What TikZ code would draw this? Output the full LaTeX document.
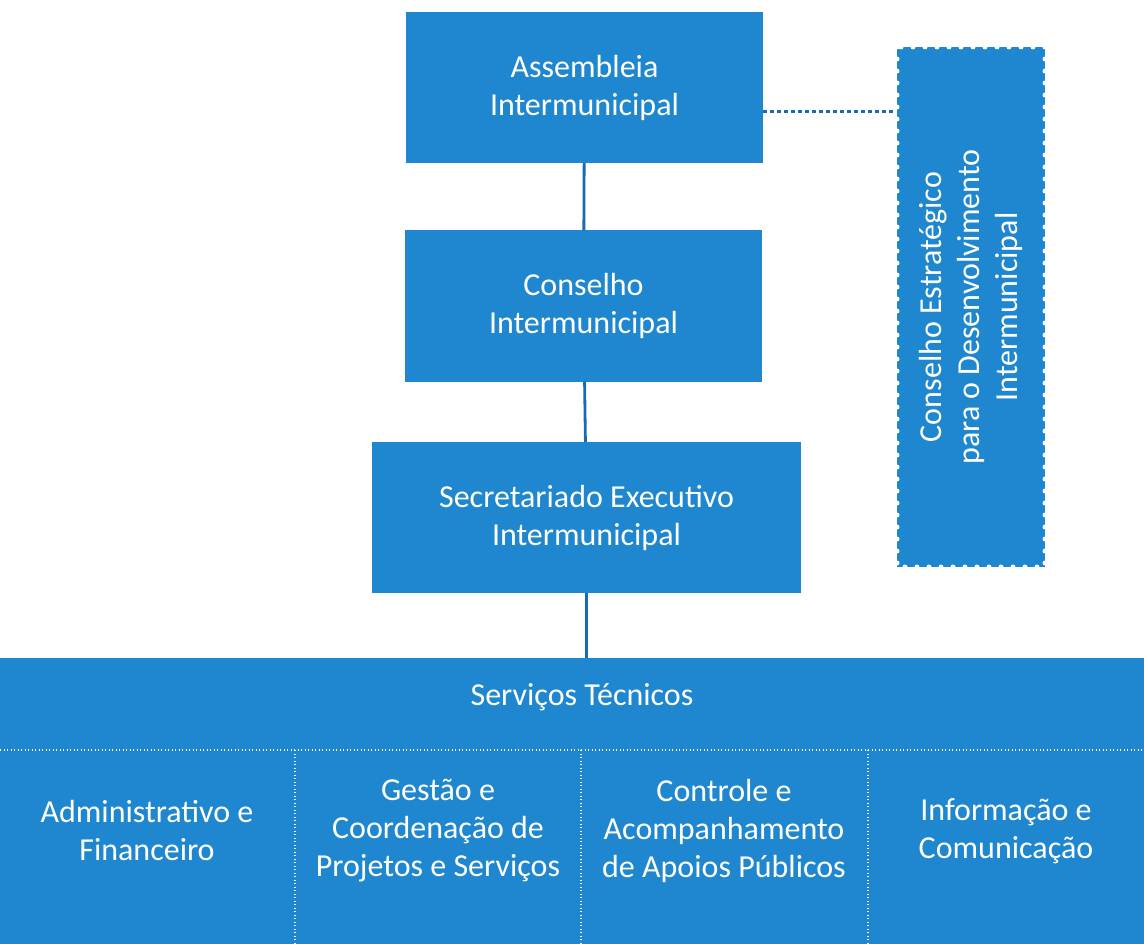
\documentclass[tikz,border=0pt]{standalone}
\usepackage{fontspec}
\setmainfont{Carlito}
\usepackage{tikz}
\usetikzlibrary{positioning}
\definecolor{orgblue}{RGB}{30,135,207}
\definecolor{linkblue}{RGB}{24,106,180}
\tikzset{
    unit/.style={
           rectangle,
           fill=orgblue,
           text=white,
           minimum height=151pt,
           inner sep=2pt,
           align=center,
           font=\fontsize{32}{38}\selectfont,
           },
    stamp/.style={
           unit,
           draw=white,
           line width=5pt,
           line cap=round,
           dash pattern=on 0pt off 12pt,
           },
    cell/.style={
           text=white,
           align=center,
           font=\fontsize{32}{38}\selectfont,
           },
    link/.style={draw=linkblue,line width=2.8pt},
    dotlink/.style={draw=linkblue,line width=3pt,dash pattern=on 3.5pt off 3.5pt},
    divider/.style={draw=white,line width=1.3pt,dash pattern=on 1.3pt off 2.2pt},
}

\begin{document}
\begin{tikzpicture}[x=1pt,y=-1pt]
\useasboundingbox (0,0) rectangle (1144,944);
\node[unit,minimum width=357pt](assembleia) at (584.5,87.5){Assembleia\\Intermunicipal};
\node[unit,minimum width=357pt,below of=assembleia,node distance=218.5pt,xshift=-1pt](conselho){Conselho\\Intermunicipal};
\node[unit,minimum width=429pt,below of=conselho,node distance=211.5pt,xshift=3pt](secretariado){Secretariado Executivo\\Intermunicipal};
\node[stamp,rotate=90,minimum width=520pt,minimum height=148pt](cedi) at (971,307){Conselho Estratégico\\para o Desenvolvimento\\Intermunicipal};
% servicos tecnicos
\node[unit,minimum width=1144pt,minimum height=286pt,anchor=north](servicos) at (572,658){};
\node[cell](servtit) at (582,697){Serviços Técnicos};
\node[cell](admin) at (147,831){Administrativo e\\Financeiro};
\node[cell](gestao) at (438,831){Gestão e\\Coordenação de\\Projetos e Serviços};
\node[cell](controle) at (724,831){Controle e\\Acompanhamento\\de Apoios Públicos};
\node[cell](info) at (1006,831){Informação e\\Comunicação};
\draw[divider] (0,750) -- (1144,750);
\foreach \x in {295,581,868}
  \draw[divider] (\x,750) -- (\x,944);
\path (assembleia) edge[link] (conselho)
      (conselho) edge[link] (secretariado)
      (secretariado) edge[link] (secretariado.south |- servicos.north);
\path ([yshift=-24pt]assembleia.east) edge[dotlink] ([yshift=-24pt]assembleia.east -| cedi.north);
\end{tikzpicture}
\end{document}
